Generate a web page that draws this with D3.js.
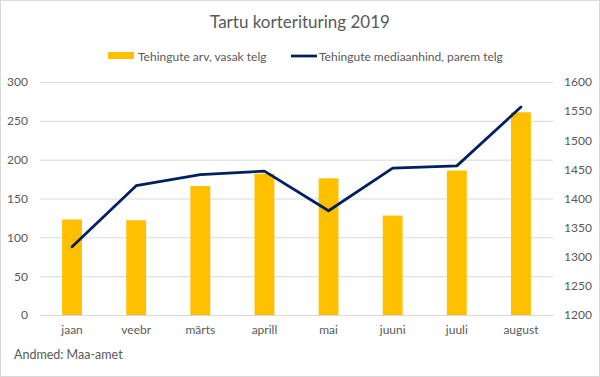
<!DOCTYPE html>
<html>
<head>
<meta charset="utf-8">
<script src="https://cdn.jsdelivr.net/npm/d3@7"></script>
<style>
	body { margin: 0; background: #fff; }
	#chart { width: 600px; height: 377px; }
	text { font-family: Lato, "Open Sans", sans-serif; fill: #595959; }
</style>
</head>
<body>
<div id="chart"></div>
<script>
// data
const months = ['jaan', 'veebr', 'märts', 'aprill', 'mai', 'juuni', 'juuli', 'august'];
const dealCount = [123, 122, 166, 182, 176, 128, 186, 261];
const medianPrice = [1317, 1422, 1441, 1447, 1379, 1452, 1456, 1557];
const leftTicks = [0, 50, 100, 150, 200, 250, 300];
const rightTicks = [1200, 1250, 1300, 1350, 1400, 1450, 1500, 1550, 1600];

const W = 600, H = 377;
const margin = {t: 82, r: 47, b: 62, l: 40};
const w = W - margin.l - margin.r;
const h = H - margin.t - margin.b;

const svg = d3.select('#chart')
	.append('svg')
	.attr('width', W).attr('height', H);

// outer frame
svg.append('rect')
	.attr('x', 0.5).attr('y', 0.5)
	.attr('width', W - 1).attr('height', H - 1)
	.style('fill', '#fff')
	.style('stroke', '#d9d9d9');

const scaleX = d3.scaleBand().domain(months).range([0, w]).paddingInner(0.69).paddingOuter(0.345);
const scaleY = d3.scaleLinear().domain([0, 300]).range([h, 0]);
const scaleY2 = d3.scaleLinear().domain([1200, 1600]).range([h, 0]);

const plot = svg.append('g')
	.attr('transform', `translate(${margin.l}, ${margin.t})`);

//gridlines
plot.append('g')
	.attr('class', 'grid')
	.call(d3.axisLeft(scaleY).tickValues(leftTicks).tickSize(-w).tickFormat(''))
	.call(g => g.select('.domain').remove())
	.selectAll('line')
	.style('stroke', '#d9d9d9');

//bars
plot.selectAll('.bar')
	.data(dealCount)
	.enter()
	.append('rect')
	.attr('class', 'bar')
	.attr('x', (d, i) => scaleX(months[i]))
	.attr('y', d => scaleY(d))
	.attr('width', scaleX.bandwidth())
	.attr('height', d => h - scaleY(d))
	.style('fill', '#ffc000');

//line
const line = d3.line()
	.x((d, i) => scaleX(months[i]) + scaleX.bandwidth() / 2)
	.y(d => scaleY2(d));

plot.append('path')
	.datum(medianPrice)
	.attr('d', line)
	.style('fill', 'none')
	.style('stroke', '#002060')
	.style('stroke-width', 2.75)
	.style('stroke-linecap', 'round')
	.style('stroke-linejoin', 'round');

//axes
const axisL = plot.append('g')
	.call(d3.axisLeft(scaleY).tickValues(leftTicks).tickSize(0).tickPadding(12));
axisL.select('.domain').remove();

const axisR = plot.append('g')
	.attr('transform', `translate(${w}, 0)`)
	.call(d3.axisRight(scaleY2).tickValues(rightTicks).tickFormat(d3.format('d')).tickSize(0).tickPadding(11));
axisR.select('.domain').remove();

const axisB = plot.append('g')
	.attr('transform', `translate(0, ${h})`)
	.call(d3.axisBottom(scaleX).tickSize(0).tickPadding(10));
axisB.select('.domain').style('stroke', '#d9d9d9');

plot.selectAll('.tick text')
	.style('font-family', 'Lato, sans-serif')
	.style('font-size', '12px')
	.style('fill', '#595959');

//title
svg.append('text')
	.attr('x', W / 2).attr('y', 28)
	.attr('text-anchor', 'middle')
	.style('font-size', '17px')
	.text('Tartu korterituring 2019');

//legend
const legend = svg.append('g').attr('transform', 'translate(0, 56)');
legend.append('rect')
	.attr('x', 108).attr('y', -4).attr('width', 26).attr('height', 7)
	.style('fill', '#ffc000');
legend.append('text')
	.attr('x', 138).attr('y', 4.5)
	.style('font-size', '12px')
	.text('Tehingute arv, vasak telg');
legend.append('line')
	.attr('x1', 291).attr('x2', 317).attr('y1', 0).attr('y2', 0)
	.style('stroke', '#002060')
	.style('stroke-width', 2.75);
legend.append('text')
	.attr('x', 319).attr('y', 4.5)
	.style('font-size', '12px')
	.text('Tehingute mediaanhind, parem telg');

//source
svg.append('text')
	.attr('x', 14).attr('y', 359)
	.style('font-size', '12.5px')
	.text('Andmed: Maa-amet');
</script>
</body>
</html>
